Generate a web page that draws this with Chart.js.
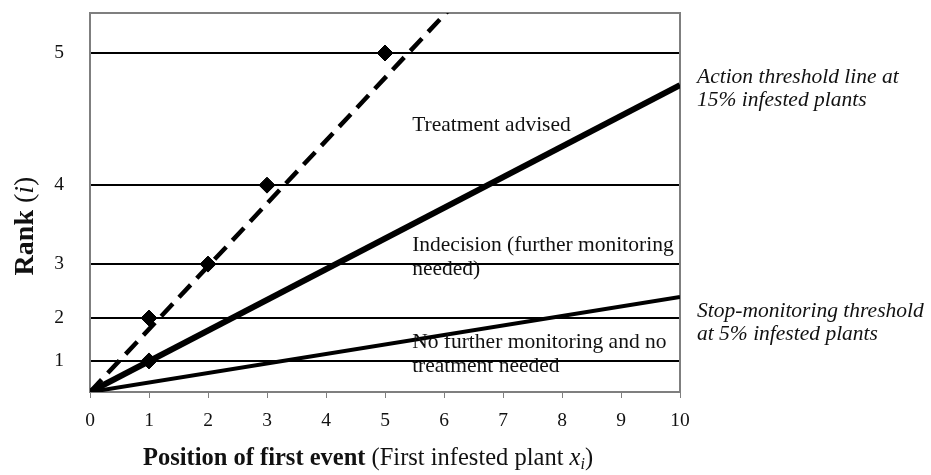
<!DOCTYPE html>
<html>
<head>
<meta charset="utf-8">
<script src="https://cdn.jsdelivr.net/npm/chart.js@4"></script>
<style>
  html, body { margin: 0 ; padding: 0 ; background: #ffffff ; }
  #wrap { width: 931px ; height: 475px ; }
</style>
</head>
<body>
<div id="wrap"><canvas id="rankChart" width="931" height="475"></canvas></div>
<script>

    const LINE_COLOR   = '#000000' ;
    const BOX_COLOR    = '#7f7f7f' ;
    const TEXT_COLOR   = '#111111' ;
    const SERIF        = '"Liberation Serif", "DejaVu Serif", serif' ;
    const Y_MAX        = 14.4 ;

    // ---------------- Chart data -------------------------------------------
    const xTickValues    = [ 0, 1, 2, 3, 4, 5, 6, 7, 8, 9, 10 ] ;
    const rankLabels     = [ '1', '2', '3', '4', '5' ] ;
    const rankPositions  = [ 1.18, 2.81, 4.86, 7.86, 12.88 ] ;

    const observedX      = [ 1, 1, 2, 3, 5 ] ;
    const observedRank   = [ 1, 2, 3, 4, 5 ] ;

    const trendX         = [ 0, 6.2 ] ;
    const trendY         = [ 0, 14.8 ] ;

    const actionX        = [ 0, 10 ] ;
    const actionY        = [ 0, 11.66 ] ;

    const stopX          = [ 0, 10 ] ;
    const stopY          = [ 0, 3.61 ] ;

    // ---------------- Annotation texts --------------------------------------
    const zoneNotes = [
        { x: 5.46, y: 10.14, lines: [ 'Treatment advised' ] },
        { x: 5.46, y: 5.59,  lines: [ 'Indecision (further monitoring', 'needed)' ] },
        { x: 5.46, y: 1.90,  lines: [ 'No further monitoring and no', 'treatment needed' ] },
    ] ;
    const sideNotes = [
        { y: 11.95, lines: [ 'Action threshold line at', '15% infested plants' ] },
        { y: 3.05,  lines: [ 'Stop-monitoring threshold', 'at 5% infested plants' ] },
    ] ;

    function toPoints( xs, ys ) {
        var pts = [] ;
        for( var i=0; i<xs.length; i++ ) {
            pts.push( { x: xs[i], y: ys[i] } ) ;
        }
        return pts ;
    }

    function rankToPoints() {
        var pts = [] ;
        for( var i=0; i<observedX.length; i++ ) {
            pts.push( { x: observedX[i], y: rankPositions[ observedRank[i] - 1 ] } ) ;
        }
        return pts ;
    }

    // Draws a run of differently styled text pieces starting at x
    function drawRuns( ctx, runs, x, y ) {
        var cx = x ;
        for( var i=0; i<runs.length; i++ ) {
            ctx.font = runs[i].font ;
            ctx.fillText( runs[i].text, cx, y + ( runs[i].dy || 0 ) ) ;
            cx += ctx.measureText( runs[i].text ).width ;
        }
    }

    function runsWidth( ctx, runs ) {
        var w = 0 ;
        for( var i=0; i<runs.length; i++ ) {
            ctx.font = runs[i].font ;
            w += ctx.measureText( runs[i].text ).width ;
        }
        return w ;
    }

    function noPadding( s ) {
        s.paddingTop = 0 ;
        s.paddingBottom = 0 ;
        s.paddingLeft = 0 ;
        s.paddingRight = 0 ;
    }

    const boxPlugin = {
        id: 'plotBox',
        beforeDatasetsDraw: function( chart ) {
            const a = chart.chartArea ;
            const ctx = chart.ctx ;
            ctx.save() ;
            ctx.strokeStyle = BOX_COLOR ;
            ctx.lineWidth = 2 ;
            ctx.strokeRect( a.left, a.top, a.right - a.left, a.bottom - a.top ) ;
            ctx.restore() ;
        }
    } ;

    const textPlugin = {
        id: 'notes',
        afterDraw: function( chart ) {
            const ctx = chart.ctx ;
            const xs = chart.scales.x ;
            const ys = chart.scales.y ;
            const a = chart.chartArea ;

            ctx.save() ;
            ctx.fillStyle = TEXT_COLOR ;
            ctx.textBaseline = 'middle' ;
            ctx.textAlign = 'left' ;

            ctx.font = '21.5px ' + SERIF ;
            zoneNotes.forEach( function( n ) {
                var px = xs.getPixelForValue( n.x ) ;
                var py = ys.getPixelForValue( n.y ) ;
                n.lines.forEach( function( l, k ) {
                    ctx.fillText( l, px, py + k * 24 ) ;
                } ) ;
            } ) ;

            ctx.font = 'italic 21.5px ' + SERIF ;
            sideNotes.forEach( function( n ) {
                var py = ys.getPixelForValue( n.y ) ;
                n.lines.forEach( function( l, k ) {
                    ctx.fillText( l, a.right + 17, py + k * 23 ) ;
                } ) ;
            } ) ;

            // x axis title
            const xRuns = [
                { text: 'Position of first event', font: 'bold 24.5px ' + SERIF },
                { text: ' (First infested plant ', font: '24.5px ' + SERIF },
                { text: 'x', font: 'italic 24.5px ' + SERIF },
                { text: 'i', font: 'italic 16px ' + SERIF, dy: 6 },
                { text: ')', font: '24.5px ' + SERIF },
            ] ;
            var w = runsWidth( ctx, xRuns ) ;
            drawRuns( ctx, xRuns, ( a.left + a.right ) / 2 - 17 - w / 2, 459 ) ;

            // y axis title
            const yRuns = [
                { text: 'Rank', font: 'bold 28px ' + SERIF },
                { text: ' (', font: '28px ' + SERIF },
                { text: 'i', font: 'italic 28px ' + SERIF },
                { text: ')', font: '28px ' + SERIF },
            ] ;
            var wy = runsWidth( ctx, yRuns ) ;
            ctx.translate( 26, 226 ) ;
            ctx.rotate( -Math.PI / 2 ) ;
            drawRuns( ctx, yRuns, -wy / 2, 0 ) ;
            ctx.restore() ;
        }
    } ;

    const data = {
        datasets: [
            {
                type            : 'line',
                data            : toPoints( stopX, stopY ),
                borderColor     : LINE_COLOR,
                borderWidth     : 4,
                pointRadius     : 0,
            },
            {
                type            : 'line',
                data            : toPoints( actionX, actionY ),
                borderColor     : LINE_COLOR,
                borderWidth     : 6,
                pointRadius     : 0,
            },
            {
                type            : 'line',
                data            : toPoints( trendX, trendY ),
                borderColor     : LINE_COLOR,
                borderWidth     : 4.5,
                borderDash      : [ 17, 9 ],
                pointRadius     : 0,
                clip            : 0,
            },
            {
                type            : 'scatter',
                data            : rankToPoints(),
                backgroundColor : LINE_COLOR,
                borderColor     : LINE_COLOR,
                pointStyle      : 'rectRot',
                pointRadius     : 8,
                showLine        : false,
            },
        ]
    } ;

    const options = {
        responsive: false,
        animation: false,
        layout: {
            padding: { left: 0, right: 251, top: 13, bottom: 0 }
        },
        plugins: {
            legend  : { display: false },
            tooltip : { enabled: false },
        },
        scales: {
            x: {
                type: 'linear',
                min: 0,
                max: 10,
                afterFit: function( s ) { s.height = 83 ; noPadding( s ) ; },
                afterBuildTicks: function( s ) {
                    s.ticks = xTickValues.map( function( v ) { return { value: v } ; } ) ;
                },
                grid: {
                    drawOnChartArea: false,
                    drawTicks: true,
                    tickLength: 6,
                    color: BOX_COLOR,
                    lineWidth: 1,
                },
                border: { display: false },
                ticks: {
                    padding: 11,
                    color: TEXT_COLOR,
                    font: { family: SERIF, size: 19.5 },
                },
            },
            y: {
                type: 'linear',
                min: 0,
                max: Y_MAX,
                afterFit: function( s ) { s.width = 90 ; noPadding( s ) ; },
                afterBuildTicks: function( s ) {
                    s.ticks = rankPositions.map( function( v ) { return { value: v } ; } ) ;
                },
                grid: {
                    drawTicks: false,
                    color: LINE_COLOR,
                    lineWidth: 2,
                },
                border: { display: false },
                ticks: {
                    padding: 26,
                    color: TEXT_COLOR,
                    font: { family: SERIF, size: 19.5 },
                    callback: function( value ) {
                        return rankLabels[ rankPositions.indexOf( value ) ] ;
                    }
                },
            }
        }
    } ;

    new Chart( document.getElementById( 'rankChart' ), {
        data: data,
        options: options,
        plugins: [ boxPlugin, textPlugin ]
    } ) ;

</script>
</body>
</html>
